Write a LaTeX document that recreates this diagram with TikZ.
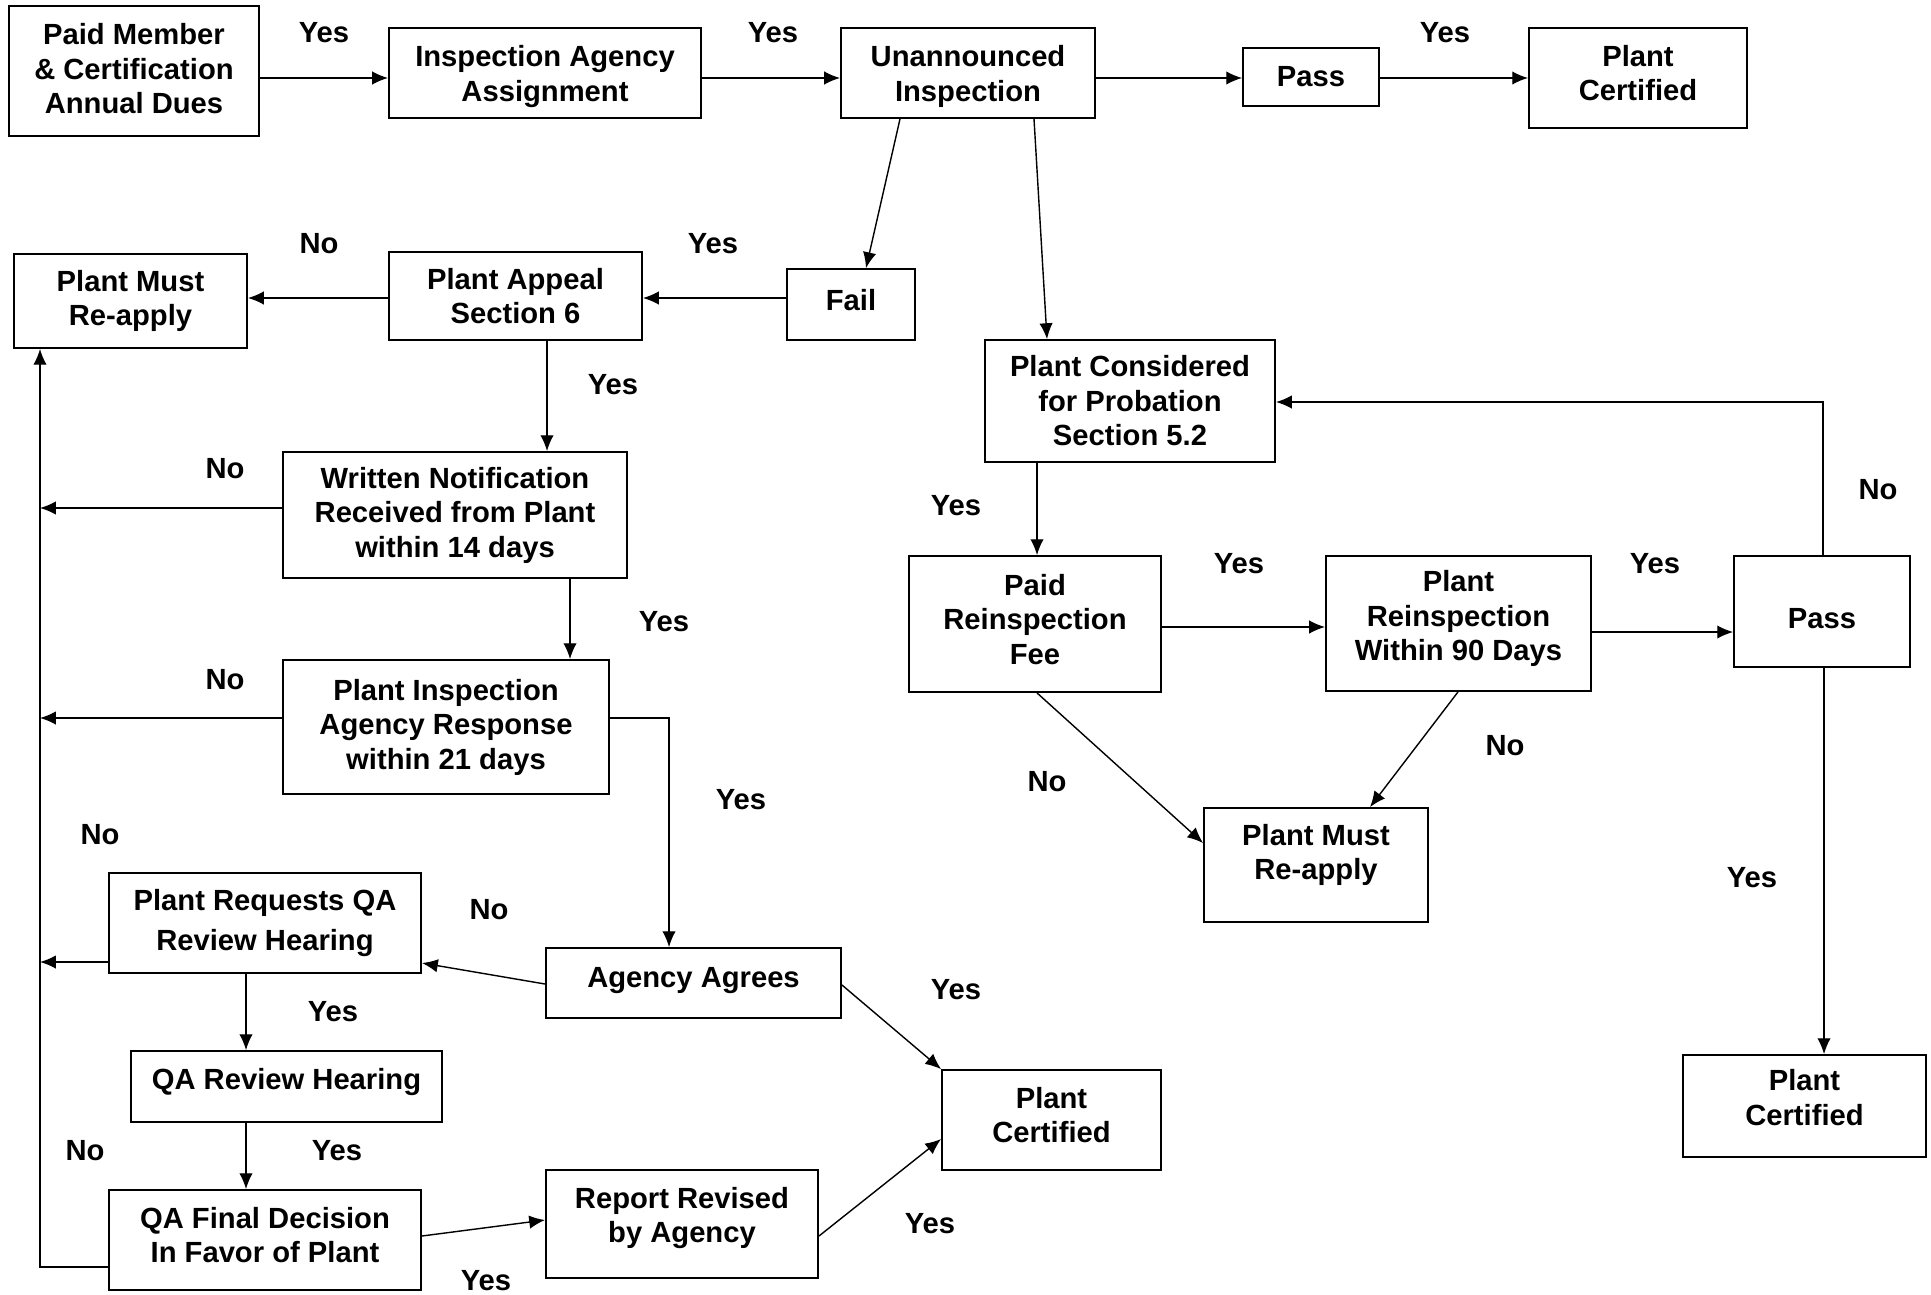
\documentclass[tikz,border=0pt]{standalone}
\usepackage{fontspec}
\setmainfont{Liberation Sans}
\newcommand\lastdp[1]{\rule[-#1]{0pt}{0pt}}
\newcommand\firstht[1]{\rule{0pt}{#1}}
\tikzstyle{box}=[rectangle,draw=black,line width=0.5pt,align=center,inner sep=0pt,
font=\bfseries\fontsize{8.3}{9.8}\selectfont]
\tikzstyle{lbl}=[inner sep=0pt,font=\bfseries\fontsize{8.3}{9.8}\selectfont]
\tikzstyle{arr}=[line width=0.4pt,-{Latex[length=4.5pt,width=3.8pt]}]
\usetikzlibrary{arrows.meta,calc,positioning}

\begin{document}
\begin{tikzpicture}[x=0.01cm,y=-0.01cm]
            \useasboundingbox (0,0) rectangle (1931,1294);

            % TOP ROW

            \node[box,minimum width=2.50cm,minimum height=1.30cm] (dues) at (134,71) {Paid Member\\\& Certification\\Annual Dues\lastdp{1.4pt}};
            \node[box,minimum width=3.12cm,minimum height=0.90cm] (assign) at (545,73) {\firstht{8.1pt}Inspection Agency\\Assignment};
            \node[box,minimum width=2.54cm,minimum height=0.90cm] (insp) at (968,73) {\firstht{8.1pt}Unannounced\\Inspection};
            \node[box,minimum width=1.36cm,minimum height=0.58cm] (pass1) at (1311,77) {Pass};
            \node[box,minimum width=2.18cm,minimum height=1.00cm] (cert1) at (1638,78) {Plant\\Certified\lastdp{2.8pt}};

            \path[arr] (dues.east |- 0,78) edge (assign.west |- 0,78);
            \path[arr] (assign.east |- 0,78) edge (insp.west |- 0,78);
            \path[arr] (insp.east |- 0,78) edge (pass1.west |- 0,78);
            \path[arr] (pass1.east |- 0,78) edge (cert1.west |- 0,78);

            \node[lbl] (y1) at (324,33) {Yes};
            \node[lbl] (y2) at (773,33) {Yes};
            \node[lbl] (y3) at (1445,33) {Yes};

            % APPEAL PART

            \node[box,minimum width=2.33cm,minimum height=0.94cm] (reapp1) at (130.5,301) {Plant Must\\Re-apply};
            \node[box,minimum width=2.53cm,minimum height=0.88cm] (appeal) at (515.5,296) {Plant Appeal\\Section 6};
            \node[box,minimum width=1.28cm,minimum height=0.71cm] (fail) at (851,304.5) {Fail\lastdp{2.8pt}};
            \node[box,minimum width=3.44cm,minimum height=1.26cm] (notif) at (455,515) {Written Notification\\Received from Plant\\within 14 days};
            \node[box,minimum width=3.26cm,minimum height=1.34cm] (resp) at (446,727) {Plant Inspection\\Agency Response\\within 21 days};
            \node[box,minimum width=3.12cm,minimum height=1.00cm] (qareq) at (265,923) {Plant Requests QA\\[1.3pt]Review Hearing};
            \node[box,minimum width=2.95cm,minimum height=0.70cm] (agree) at (693.5,983) {Agency Agrees\lastdp{3.1pt}};
            \node[box,minimum width=3.11cm,minimum height=0.71cm] (qarev) at (286.5,1086.5) {QA Review Hearing\lastdp{4.5pt}};
            \node[box,minimum width=2.19cm,minimum height=1.00cm] (cert2) at (1051.5,1120) {Plant\\Certified\lastdp{2.8pt}};
            \node[box,minimum width=3.12cm,minimum height=1.00cm] (qafin) at (265,1240) {QA Final Decision\\In Favor of Plant\lastdp{2.8pt}};
            \node[box,minimum width=2.72cm,minimum height=1.08cm] (revised) at (682,1224) {Report Revised\\by Agency\lastdp{5.2pt}};

            \coordinate (bus) at (40,1267);

            \path[arr] (insp.south -| 900,0) edge (fail.north -| 866,0);
            \path[arr] (fail.west |- 0,298) edge (appeal.east |- 0,298);
            \path[arr] (appeal.west |- 0,298) edge (reapp1.east |- 0,298);
            \path[arr] (appeal.south -| 547,0) edge (notif.north -| 547,0);
            \path[arr] (notif.south -| 570,0) edge (resp.north -| 570,0);
            \path[arr] (notif.west |- 0,508) edge (bus |- 0,508);
            \path[arr] (resp.west |- 0,718) edge (bus |- 0,718);
            \draw[arr] (resp.east |- 0,718) -| (agree.north -| 669,0);
            \path[arr] (agree.west |- 0,984) edge (qareq.east |- 0,963);
            \path[arr] (agree.east |- 0,985) edge (cert2.north west);
            \path[arr] (qareq.west |- 0,962) edge (bus |- 0,962);
            \path[arr] (qareq.south -| 246,0) edge (qarev.north -| 246,0);
            \path[arr] (qarev.south -| 246,0) edge (qafin.north -| 246,0);
            \draw[arr] (qafin.west |- bus) -- (bus) -- (bus |- reapp1.south);
            \path[arr] (qafin.east |- 0,1236) edge (revised.west |- 0,1220);
            \path[arr] (revised.east |- 0,1236) edge (cert2.west |- 0,1139);

            \node[lbl] (n1) at (319,244) {No};
            \node[lbl] (y4) at (713,244) {Yes};
            \node[lbl] (y5) at (613,385) {Yes};
            \node[lbl] (n2) at (225,469) {No};
            \node[lbl] (y6) at (664,622) {Yes};
            \node[lbl] (n3) at (225,680) {No};
            \node[lbl] (y7) at (741,800) {Yes};
            \node[lbl] (n4) at (100,835) {No};
            \node[lbl] (n5) at (489,910) {No};
            \node[lbl] (y8) at (333,1012) {Yes};
            \node[lbl] (y9) at (956,990) {Yes};
            \node[lbl] (n6) at (85,1151) {No};
            \node[lbl] (y10) at (337,1151) {Yes};
            \node[lbl] (y11) at (486,1281) {Yes};
            \node[lbl] (y12) at (930,1224) {Yes};

            % PROBATION PART

            \node[box,minimum width=2.90cm,minimum height=1.22cm] (prob) at (1130,401) {Plant Considered\\for Probation\\Section 5.2};
            \node[box,minimum width=2.52cm,minimum height=1.36cm] (fee) at (1035,624) {Paid\\Reinspection\\Fee\lastdp{2.8pt}};
            \node[box,minimum width=2.65cm,minimum height=1.35cm] (reinsp) at (1458.5,623.5) {Plant\\Reinspection\\Within 90 Days\lastdp{4.5pt}};
            \node[box,minimum width=1.76cm,minimum height=1.11cm] (pass2) at (1822,611.5) {\firstht{9.5pt}Pass};
            \node[box,minimum width=2.24cm,minimum height=1.14cm] (reapp2) at (1316,865) {Plant Must\\Re-apply\lastdp{7.4pt}};
            \node[box,minimum width=2.43cm,minimum height=1.02cm] (cert3) at (1804.5,1106) {Plant\\Certified\lastdp{4.9pt}};

            \path[arr] (insp.south -| 1034,0) edge (prob.north -| 1047,0);
            \path[arr] (prob.south -| 1037,0) edge (fee.north -| 1037,0);
            \path[arr] (fee.east |- 0,627) edge (reinsp.west |- 0,627);
            \path[arr] (reinsp.east |- 0,632) edge (pass2.west |- 0,632);
            \draw[arr] (pass2.north -| 1823,0) |- (prob.east |- 0,402);
            \path[arr] (pass2.south -| 1824,0) edge (cert3.north -| 1824,0);
            \path[arr] (fee.south -| 1037,0) edge (reapp2.west |- 0,843);
            \path[arr] (reinsp.south -| 1458,0) edge (reapp2.north -| 1370,0);

            \node[lbl] (y13) at (956,506) {Yes};
            \node[lbl] (y14) at (1239,564) {Yes};
            \node[lbl] (y15) at (1655,564) {Yes};
            \node[lbl] (n7) at (1878,490) {No};
            \node[lbl] (n8) at (1047,782) {No};
            \node[lbl] (n9) at (1505,746) {No};
            \node[lbl] (y16) at (1752,878) {Yes};

        \end{tikzpicture}
\end{document}
